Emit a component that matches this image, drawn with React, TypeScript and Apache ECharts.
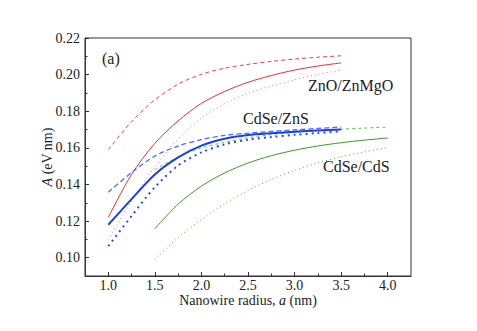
import { useEffect, useRef } from 'react';
import * as echarts from 'echarts';

// Nanowire radius a (nm)
const radiusShort = [1.0, 1.25, 1.5, 1.75, 2.0, 2.25, 2.5, 2.75, 3.0, 3.25, 3.5];
const radiusLong = [1.5, 1.75, 2.0, 2.25, 2.5, 2.75, 3.0, 3.25, 3.5, 3.75, 4.0];

// ZnO/ZnMgO
const znoDashed = [0.159, 0.1743, 0.1862, 0.1948, 0.2002, 0.2035, 0.2056, 0.2072, 0.2085, 0.2095, 0.2103];
const znoSolid = [0.122, 0.1455, 0.1625, 0.1747, 0.1843, 0.1908, 0.1958, 0.1995, 0.2025, 0.2047, 0.2064];
const znoDotted = [0.110, 0.131, 0.1495, 0.1648, 0.1762, 0.1842, 0.1897, 0.1938, 0.1972, 0.2001, 0.2025];

// CdSe/ZnS
const znsDashed = [0.1358, 0.1465, 0.1555, 0.161, 0.1645, 0.1668, 0.168, 0.169, 0.1698, 0.1706, 0.1714];
const znsSolid = [0.118, 0.132, 0.1455, 0.1548, 0.1612, 0.165, 0.167, 0.168, 0.1688, 0.1695, 0.170];
const znsDotted = [0.1063, 0.1228, 0.1385, 0.1503, 0.1575, 0.1619, 0.1644, 0.1659, 0.1671, 0.1681, 0.169];

// CdSe/CdS
const cdsDashed = [0.148, 0.155, 0.160, 0.163, 0.1655, 0.1672, 0.1685, 0.1695, 0.1702, 0.1708, 0.1713];
const cdsSolid = [0.1158, 0.1293, 0.1391, 0.1463, 0.1517, 0.1557, 0.1587, 0.161, 0.1628, 0.1642, 0.1654];
const cdsDotted = [0.099, 0.111, 0.1208, 0.1295, 0.1367, 0.1427, 0.1477, 0.1518, 0.1551, 0.1578, 0.160];

const xMajor = [1.0, 1.5, 2.0, 2.5, 3.0, 3.5, 4.0];
const xMinor = [1.25, 1.75, 2.25, 2.75, 3.25, 3.75];
const yMajor = [0.10, 0.12, 0.14, 0.16, 0.18, 0.20, 0.22];
const yMinor = [0.11, 0.13, 0.15, 0.17, 0.19, 0.21];

const FONT = 'Liberation Serif';

const pair = (xs: number[], ys: number[]) => xs.map((x, i) => [x, ys[i]]);

function line(name: string, xs: number[], ys: number[], color: string, width: number, type: any) {
  return {
    name,
    type: 'line',
    data: pair(xs, ys),
    smooth: 0.3,
    showSymbol: false,
    symbol: 'none',
    lineStyle: { color, width, type },
    xAxisIndex: 0,
    yAxisIndex: 0,
  };
}

export default function App() {
  const ref = useRef<HTMLDivElement>(null);
  useEffect(() => {
    if (!ref.current) return;
    const chart = echarts.init(ref.current, undefined, { renderer: 'svg' });
    const axisColor = '#333';
    chart.setOption({
      animation: false,
      backgroundColor: '#fff',
      textStyle: { fontFamily: FONT },
      grid: {
        left: 85,
        right: 66,
        top: 38,
        bottom: 55,
        show: true,
        borderColor: axisColor,
        borderWidth: 1,
        backgroundColor: 'transparent',
      },
      xAxis: [
        {
          type: 'value',
          min: 0.75,
          max: 4.25,
          position: 'bottom',
          name: 'Nanowire radius, {i|a} (nm)',
          nameLocation: 'middle',
          nameGap: 17,
          nameMoveOverlap: false,
          nameTextStyle: {
            fontFamily: FONT,
            fontSize: 14,
            color: '#222',
            rich: { i: { fontFamily: FONT, fontSize: 14, fontStyle: 'italic', color: '#222' } },
          },
          axisLine: { show: true, lineStyle: { color: axisColor, width: 1 } },
          axisTick: { show: true, inside: true, length: 4, customValues: xMajor, lineStyle: { color: axisColor } },
          axisLabel: {
            customValues: xMajor,
            margin: 2,
            fontFamily: FONT,
            fontSize: 14,
            color: '#222',
            formatter: (v: number) => v.toFixed(1),
          },
          splitLine: { show: false },
        },
        {
          type: 'value',
          min: 0.75,
          max: 4.25,
          position: 'bottom',
          axisLine: { show: false },
          axisTick: { show: true, inside: true, length: 2.5, customValues: xMinor, lineStyle: { color: axisColor } },
          axisLabel: { show: false, customValues: xMinor },
          splitLine: { show: false },
        },
      ],
      yAxis: [
        {
          type: 'value',
          min: 0.09,
          max: 0.22,
          position: 'left',
          name: '{i|A} (eV nm)',
          nameLocation: 'middle',
          nameGap: 31,
          nameRotate: 90,
          nameMoveOverlap: false,
          nameTextStyle: {
            fontFamily: FONT,
            fontSize: 14,
            color: '#222',
            rich: { i: { fontFamily: FONT, fontSize: 14, fontStyle: 'italic', color: '#222' } },
          },
          axisLine: { show: true, lineStyle: { color: axisColor, width: 1 } },
          axisTick: { show: true, inside: true, length: 4, customValues: yMajor, lineStyle: { color: axisColor } },
          axisLabel: {
            customValues: yMajor,
            margin: 5,
            fontFamily: FONT,
            fontSize: 14,
            color: '#222',
            formatter: (v: number) => v.toFixed(2),
          },
          splitLine: { show: false },
        },
        {
          type: 'value',
          min: 0.09,
          max: 0.22,
          position: 'left',
          axisLine: { show: false },
          axisTick: { show: true, inside: true, length: 2.5, customValues: yMinor, lineStyle: { color: axisColor } },
          axisLabel: { show: false, customValues: yMinor },
          splitLine: { show: false },
        },
      ],
      graphic: [
        { type: 'text', left: 102, top: 50, style: { text: '(a)', fontFamily: FONT, fontSize: 16, fill: '#222' } },
        { type: 'text', left: 308, top: 77, style: { text: 'ZnO/ZnMgO', fontFamily: FONT, fontSize: 16, fill: '#222' } },
        { type: 'text', left: 243, top: 110, style: { text: 'CdSe/ZnS', fontFamily: FONT, fontSize: 16, fill: '#222' } },
        { type: 'text', left: 323, top: 158, style: { text: 'CdSe/CdS', fontFamily: FONT, fontSize: 16, fill: '#222' } },
      ],
      series: [
        line('CdSe/CdS dashed', radiusLong, cdsDashed, '#6cbf4a', 1, [3, 3]),
        line('CdSe/CdS solid', radiusLong, cdsSolid, '#3f9a1f', 1, 'solid'),
        line('CdSe/CdS dotted', radiusLong, cdsDotted, '#5aa83a', 1, [1, 3]),
        line('ZnO/ZnMgO dashed', radiusShort, znoDashed, '#e0404e', 1, [4, 3]),
        line('ZnO/ZnMgO solid', radiusShort, znoSolid, '#e03038', 1, 'solid'),
        line('ZnO/ZnMgO dotted', radiusShort, znoDotted, '#e0709a', 1, [1, 3]),
        line('CdSe/ZnS dashed', radiusShort, znsDashed, '#4e6cf0', 1.3, [5, 3]),
        line('CdSe/ZnS dotted', radiusShort, znsDotted, '#2a4ae8', 2, [2, 4]),
        line('CdSe/ZnS solid', radiusShort, znsSolid, '#1f3de6', 2, 'solid'),
      ],
    });
    return () => chart.dispose();
  }, []);
  return (
    <div
      ref={ref}
      style={{ position: 'fixed', left: 0, top: 0, width: 477, height: 331, background: '#fff' }}
    />
  );
}
